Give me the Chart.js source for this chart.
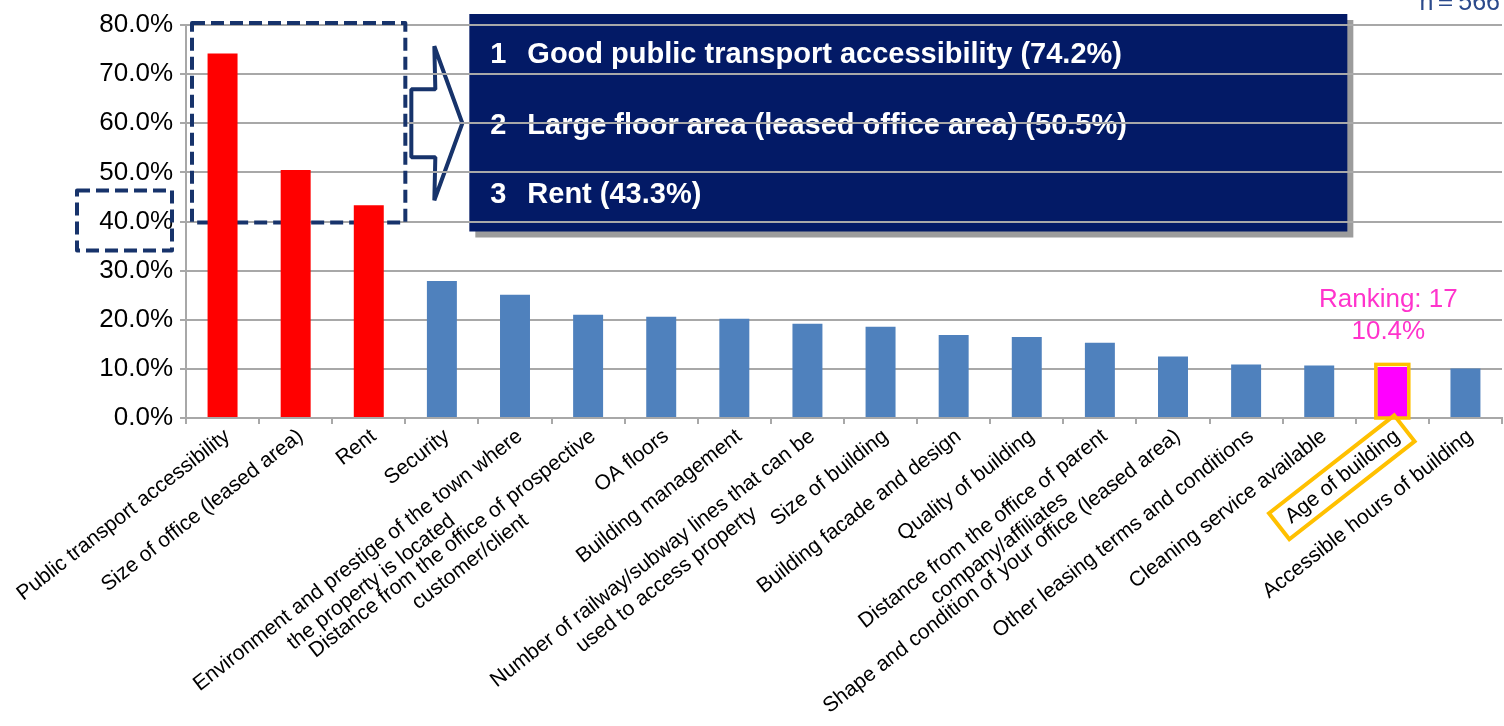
<!DOCTYPE html>
<html>
<head>
<meta charset="utf-8">
<script src="https://cdn.jsdelivr.net/npm/chart.js@4.4.1/dist/chart.umd.min.js"></script>
<style>
html,body{margin:0;padding:0;background:#fff;overflow:hidden;}
#wrap{width:1504px;height:726px;position:relative;}
</style>
</head>
<body>
<div id="wrap"><canvas id="c" width="1504" height="726"></canvas></div>
<script>
// ---------- data ----------
const categories = [
  "Public transport accessibility",
  "Size of office (leased area)",
  "Rent",
  "Security",
  ["Environment and prestige of the town where", "the property is located"],
  ["Distance from the office of prospective", "customer/client"],
  "OA floors",
  "Building management",
  ["Number of railway/subway lines that can be", "used to access property"],
  "Size of building",
  "Building facade and design",
  "Quality of building",
  ["Distance from the office of parent", "company/affiliates"],
  "Shape and condition of your office (leased area)",
  "Other leasing terms and conditions",
  "Cleaning service available",
  "Age of building",
  "Accessible hours of building"
];
const values = [74.2, 50.5, 43.3, 27.9, 25.1, 21.0, 20.6, 20.2, 19.2, 18.6, 16.9, 16.5, 15.3, 12.5, 10.9, 10.7, 10.4, 10.1];
const yTickLabels = ["0.0%", "10.0%", "20.0%", "30.0%", "40.0%", "50.0%", "60.0%", "70.0%", "80.0%"];
const topCount = 3;
const highlightIndex = 16;
const rankNumbers = ["1", "2", "3"];
const rankTexts = [
  "Good public transport accessibility (74.2%)",
  "Large floor area (leased office area) (50.5%)",
  "Rent (43.3%)"
];
const highlightNote = ["Ranking: 17", "10.4%"];
const sampleNote = "n\uFF1D566";

// ---------- styling ----------
const FONT = "'Liberation Sans', Arial, Helvetica, sans-serif";
Chart.defaults.font.family = FONT;
const RED = '#FF0000', BLUE = '#4F81BD', MAGENTA = '#FF00FF';
const NAVY_LINE = '#17336B', PANEL = '#031A66', YELLOW = '#FFC000', PINK = '#FF33CC';
const GRID = '#A8A8A8';
const XFONT = 21, ROT = 38, TICKLEN = 6, XPAD = 0, XOFF = 5;

const barColors = values.map((v, i) => i < topCount ? RED : (i === highlightIndex ? MAGENTA : BLUE));

// center multi-line labels (rotated labels are right-aligned by the library)
const measureCtx = document.createElement('canvas').getContext('2d');
measureCtx.font = XFONT + "px " + FONT;
const spaceW = measureCtx.measureText(' ').width;
function centerLines(lbl) {
  if (!Array.isArray(lbl)) return lbl;
  const ws = lbl.map(s => measureCtx.measureText(s).width);
  const wmax = Math.max(...ws);
  return lbl.map((s, i) => s + ' '.repeat(Math.max(0, Math.round((wmax - ws[i]) / 2 / spaceW))));
}

const annot = {
  id: 'annot',
  beforeDraw(chart) {
    const {ctx, scales: {x, y}} = chart;
    ctx.save();
    ctx.fillStyle = '#fff';
    ctx.fillRect(0, 0, chart.width, chart.height);

    const step = x.getPixelForValue(1) - x.getPixelForValue(0);
    const boxR = x.getPixelForValue(topCount - 1) + step / 2;

    // navy ranking panel with shadow
    const pL = boxR + 64, pR = pL + 878;
    const pT = y.getPixelForValue(80) - 11, pB = y.getPixelForValue(40) + 10;
    ctx.fillStyle = '#9C9C9C';
    ctx.fillRect(pL + 6, pT + 6, pR - pL, pB - pT);
    ctx.fillStyle = PANEL;
    ctx.fillRect(pL, pT, pR - pL, pB - pT);
    ctx.fillStyle = '#FFFFFF';
    ctx.font = "bold 29px " + FONT;
    ctx.textBaseline = 'middle';
    ctx.textAlign = 'left';
    const lineYs = [pT + 41, pT + 112, pT + 181];
    rankTexts.forEach((t, i) => {
      ctx.fillText(rankNumbers[i], pL + 21, lineYs[i]);
      ctx.fillText(t, pL + 58, lineYs[i]);
    });

    // sample size note
    ctx.fillStyle = '#2B4A8C';
    ctx.font = "25px " + FONT;
    ctx.textAlign = 'right';
    ctx.textBaseline = 'alphabetic';
    ctx.fillText(sampleNote, chart.width - 4, 10);

    // arrow
    const ax = boxR, ay = y.getPixelForValue(60);
    ctx.beginPath();
    ctx.moveTo(ax + 6, ay - 34);
    ctx.lineTo(ax + 30, ay - 34);
    ctx.lineTo(ax + 29, ay - 77);
    ctx.lineTo(ax + 57, ay);
    ctx.lineTo(ax + 29, ay + 77);
    ctx.lineTo(ax + 30, ay + 34);
    ctx.lineTo(ax + 6, ay + 34);
    ctx.closePath();
    ctx.fillStyle = '#fff';
    ctx.fill();
    ctx.lineWidth = 4;
    ctx.lineJoin = 'bevel';
    ctx.strokeStyle = NAVY_LINE;
    ctx.stroke();
    ctx.restore();
  },
  beforeDatasetsDraw(chart) {
    const {ctx, chartArea: a, scales: {x, y}} = chart;
    const step = x.getPixelForValue(1) - x.getPixelForValue(0);
    const boxL = x.getPixelForValue(0) - step / 2 + 6;
    const boxR = x.getPixelForValue(topCount - 1) + step / 2;
    const boxT = y.getPixelForValue(80) - 2;
    const boxB = y.getPixelForValue(40) + 1;
    ctx.save();
    ctx.setLineDash([13, 6]);
    ctx.lineJoin = 'round';
    ctx.lineWidth = 4;
    ctx.strokeStyle = NAVY_LINE;
    ctx.strokeRect(boxL, boxT, boxR - boxL, boxB - boxT);
    const y40 = y.getPixelForValue(40);
    ctx.strokeRect(a.left - 109, y40 - 31, 95, 60);
    ctx.restore();
  },
  afterDatasetsDraw(chart) {
    const {ctx, scales: {x, y}} = chart;
    const bar = chart.getDatasetMeta(0).data[highlightIndex];
    const p = bar.getProps(['x', 'y', 'width', 'base'], true);
    ctx.save();
    ctx.strokeStyle = YELLOW;
    ctx.lineWidth = 3.5;
    ctx.strokeRect(p.x - p.width / 2 - 1.5, p.y - 2.5, p.width + 3, p.base - p.y + 3.5);

    // label highlight frame, following the rotated tick label
    const th = x.labelRotation * Math.PI / 180;
    const s = Math.sin(th), c = Math.cos(th);
    const lh = XFONT * 1.2;
    const tx = x.getPixelForValue(highlightIndex) + XOFF - (lh / 2) * s;
    const ty = x.top + TICKLEN + XPAD;
    const cx = tx + (lh / 2) * s, cy = ty + (lh / 2) * c;   // right end, middle of line
    measureCtx.font = XFONT + "px " + FONT;
    const w = measureCtx.measureText(categories[highlightIndex]).width;
    const hv = XFONT / 2 + 6, a0 = 9, a1 = -(w + 11);
    const pt = (uu, vv) => [cx + uu * c + vv * s, cy - uu * s + vv * c];
    const corners = [pt(a0, -hv), pt(a0, hv), pt(a1, hv), pt(a1, -hv)];
    ctx.beginPath();
    corners.forEach((q, i) => i ? ctx.lineTo(q[0], q[1]) : ctx.moveTo(q[0], q[1]));
    ctx.closePath();
    ctx.lineWidth = 4;
    ctx.stroke();

    // ranking note
    ctx.fillStyle = PINK;
    ctx.font = "26px " + FONT;
    ctx.textAlign = 'center';
    ctx.textBaseline = 'middle';
    ctx.fillText(highlightNote[0], p.x - 4, p.y - 67);
    ctx.fillText(highlightNote[1], p.x - 4, p.y - 35);
    ctx.restore();
  }
};

new Chart(document.getElementById('c'), {
  type: 'bar',
  data: {
    labels: categories,
    datasets: [{
      data: values,
      backgroundColor: barColors,
      borderWidth: 0,
      barPercentage: 0.41,
      categoryPercentage: 1.0
    }]
  },
  options: {
    responsive: false,
    animation: false,
    devicePixelRatio: 1,
    layout: { padding: { top: 25, right: 2, left: 0, bottom: 0 } },
    plugins: { legend: { display: false }, tooltip: { enabled: false } },
    scales: {
      x: {
        grid: { drawOnChartArea: false, drawTicks: true, tickLength: TICKLEN, color: GRID, lineWidth: 2 },
        border: { color: GRID, width: 2 },
        ticks: {
          autoSkip: false,
          minRotation: ROT,
          maxRotation: ROT,
          padding: XPAD,
          labelOffset: XOFF,
          color: '#000',
          font: { size: XFONT, family: FONT },
          callback: function (v, i) { return centerLines(categories[i]); }
        },
        afterFit: function (s) { s.height = 308; s.paddingLeft = 0; s.paddingRight = 0; }
      },
      y: {
        min: 0, max: 80,
        ticks: {
          stepSize: 10,
          padding: 7,
          color: '#000',
          font: { size: 26, family: FONT },
          callback: function (v, i) { return yTickLabels[i]; }
        },
        grid: { color: GRID, lineWidth: 2, tickLength: 6 },
        border: { color: GRID, width: 2 },
        afterFit: function (s) { s.width = 186; s.paddingTop = 0; s.paddingBottom = 0; }
      }
    }
  },
  plugins: [annot]
});
</script>
</body>
</html>
